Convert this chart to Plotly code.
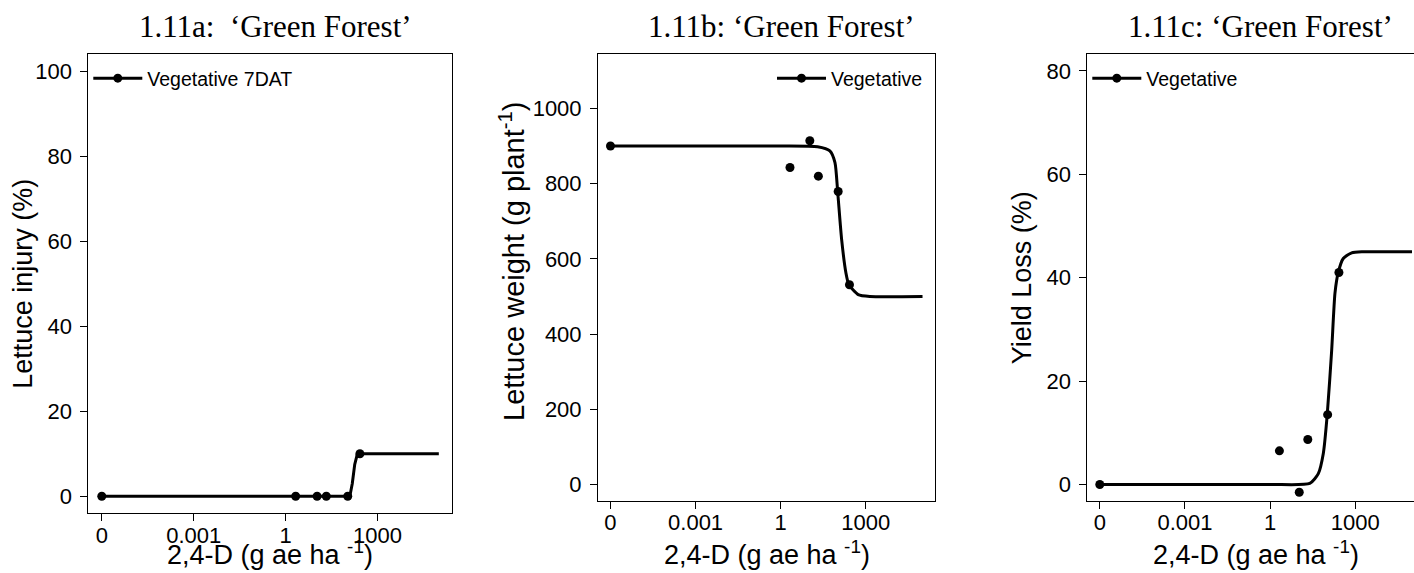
import plotly.graph_objects as go

W, H = 1414, 573

# doses (g ae/ha); the untreated check is drawn at 1e-6 on the log axis
dose = [0, 2.13, 10.65, 21.3, 106.5, 266]
zero_at = 1e-6

injury = [0, 0, 0, 0, 0, 10]
weight = [900, 843, 914, 820, 779, 531]
yield_loss = [0, 6.5, -1.5, 8.7, 13.5, 41]

# fitted dose-response curves
inj_fit_x = [0, 100, 127, 150, 180, 205, 220, 1e5]
inj_fit_y = [0, 0, 0.3, 3, 7.5, 9.6, 10, 10]
wt_fit_x = [0, 1, 20, 54, 82, 102, 141, 199, 254, 540, 1393, 1e5]
wt_fit_y = [900, 900, 898, 887, 856, 779, 651, 563, 531, 505, 500, 500]
yl_fit_x = [0, 1, 25, 50, 75, 103, 148, 193, 252, 378, 746, 1905, 1e5]
yl_fit_y = [0, 0, 0.2, 2.1, 6.0, 13.5, 26, 37, 41, 43.7, 44.8, 45, 45]

tick_vals = [1e-6, 1e-3, 1, 1e3]
tick_text = ["0", "0.001", "1", "1000"]

titles = ["1.11a:  \u2018Green Forest\u2019", "1.11b: \u2018Green Forest\u2019",
          "1.11c: \u2018Green Forest\u2019"]
ylabels = ["Lettuce injury (%)", "Lettuce weight (g plant<sup>-1</sup>)", "Yield Loss (%)"]
xlabel = "2,4-D (g ae ha <sup>-1</sup>)"
legend_names = ["Vegetative 7DAT", "Vegetative", "Vegetative"]

SANS = "Liberation Sans, Arial"
SERIF = "Liberation Serif, Times New Roman"


def px_x(p):
    return p / W


def px_y(p):
    return 1 - p / H


def pos(xs):
    return [zero_at if v == 0 else v for v in xs]


panels = [
    dict(x=injury, fx=inj_fit_x, fy=inj_fit_y, shape="linear", dom_x=(88.3, 452.3), dom_y=(54.3, 513.3),
         yr=[-4, 104], yt=[0, 20, 40, 60, 80, 100], xr=[-6.44, 5.44], mirror_y=True),
    dict(x=weight, fx=wt_fit_x, fy=wt_fit_y, shape="spline", dom_x=(598, 935), dom_y=(54.3, 501),
         yr=[-44, 1144], yt=[0, 200, 400, 600, 800, 1000], xr=[-6.44, 5.44], mirror_y=True),
    dict(x=yield_loss, fx=yl_fit_x, fy=yl_fit_y, shape="spline", dom_x=(1087.3, 1414), dom_y=(54.3, 501),
         yr=[-3.2, 83.2], yt=[0, 20, 40, 60, 80], xr=[-6.44, 5.07], mirror_y=False),
]

fig = go.Figure()
legend_ids = ["legend", "legend2", "legend3"]

for i, p in enumerate(panels):
    n = "" if i == 0 else str(i + 1)
    xa, ya = "x" + n, "y" + n
    fig.add_trace(go.Scatter(x=pos(p["fx"]), y=p["fy"], mode="lines", xaxis=xa, yaxis=ya,
                             line=dict(color="black", width=3, shape=p["shape"], smoothing=0.6),
                             showlegend=False, hoverinfo="skip"))
    fig.add_trace(go.Scatter(x=pos(dose), y=p["x"], mode="markers", xaxis=xa, yaxis=ya,
                             marker=dict(color="black", size=9), showlegend=False))
    # legend-only entry (line with a dot)
    fig.add_trace(go.Scatter(x=[None], y=[None], mode="lines+markers", xaxis=xa, yaxis=ya,
                             name=legend_names[i], legend=legend_ids[i],
                             line=dict(color="black", width=3),
                             marker=dict(color="black", size=9)))

    fig.layout["xaxis" + n] = dict(
        type="log", range=p["xr"], domain=[px_x(p["dom_x"][0]), px_x(p["dom_x"][1])],
        anchor=ya, tickvals=tick_vals, ticktext=tick_text, ticks="outside", ticklen=7,
        tickwidth=1, tickcolor="black", showline=True, linecolor="black", linewidth=1,
        mirror=True, showgrid=False, zeroline=False, ticklabelstandoff=-5,
        tickfont=dict(family=SANS, size=22, color="black"))
    fig.layout["yaxis" + n] = dict(
        range=p["yr"], domain=[px_y(p["dom_y"][1]), px_y(p["dom_y"][0])],
        anchor=xa, tickvals=p["yt"], ticks="outside", ticklen=7, tickwidth=1,
        tickcolor="black", showline=True, linecolor="black", linewidth=1,
        mirror=p["mirror_y"], showgrid=False, zeroline=False, ticklabelstandoff=4,
        tickfont=dict(family=SANS, size=22, color="black"))

leg = dict(font=dict(family=SANS, size=19.5, color="black"), bgcolor="rgba(0,0,0,0)",
           itemwidth=49, yanchor="top", y=px_y(59))
fig.update_layout(
    legend=dict(leg, x=px_x(88.3), xanchor="left"),
    legend2=dict(leg, x=px_x(928), xanchor="right"),
    legend3=dict(leg, x=px_x(1087.3), xanchor="left"),
)

ann = []
title_cx = [275, 781.5, 1260]
for cx, t in zip(title_cx, titles):
    ann.append(dict(text=t, x=px_x(cx), y=px_y(27), xref="paper", yref="paper",
                    xanchor="center", yanchor="middle", showarrow=False,
                    font=dict(family=SERIF, size=31, color="black")))
xlab_cx = [270.3, 766.5, 1255.7]
for cx in xlab_cx:
    ann.append(dict(text=xlabel, x=px_x(cx), y=px_y(553), xref="paper", yref="paper",
                    xanchor="center", yanchor="middle", showarrow=False,
                    font=dict(family=SANS, size=27, color="black")))
ylab_pos = [(23, 283.8, 27), (512, 261, 29), (1021.5, 277.7, 27)]
for (cx, cy, fs), t in zip(ylab_pos, ylabels):
    ann.append(dict(text=t, x=px_x(cx), y=px_y(cy), xref="paper", yref="paper",
                    xanchor="center", yanchor="middle", showarrow=False, textangle=-90,
                    font=dict(family=SANS, size=fs, color="black")))

fig.update_layout(
    width=W, height=H, margin=dict(l=0, r=0, t=0, b=0),
    paper_bgcolor="white", plot_bgcolor="white",
    annotations=ann,
)

# the page's default body margin would shift the figure by 8px
fig.write_html("out.html", config={"displayModeBar": False},
               post_script="document.body.style.margin='0';")
